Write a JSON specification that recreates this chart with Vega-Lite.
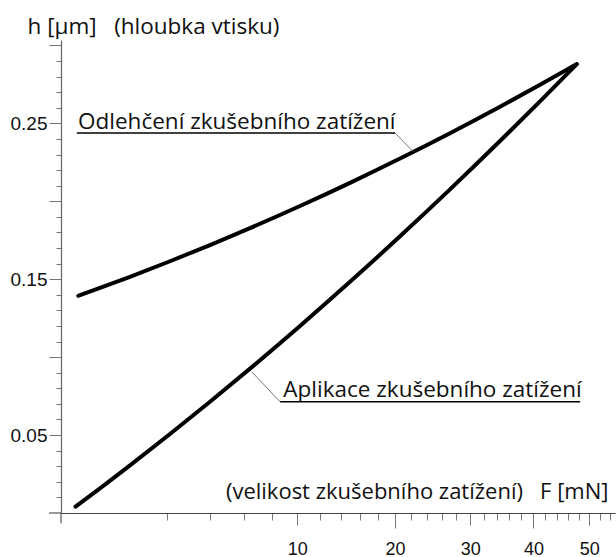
{
  "$schema": "https://vega.github.io/schema/vega-lite/v6.json",
  "autosize": "none",
  "width": 554,
  "height": 473,
  "padding": {"left": 61, "top": 40, "right": 1, "bottom": 44},
  "background": "white",
  "config": {"view": {"stroke": null}},
  "datasets": {
    "curves": [
      {"series": "load", "F": 0.0377, "h": 0.0041},
      {"series": "load", "F": 0.2726, "h": 0.01585},
      {"series": "load", "F": 0.8532, "h": 0.03057},
      {"series": "load", "F": 2.129, "h": 0.05069},
      {"series": "load", "F": 3.979, "h": 0.07137},
      {"series": "load", "F": 6.401, "h": 0.09263},
      {"series": "load", "F": 10.237, "h": 0.12003},
      {"series": "load", "F": 14.968, "h": 0.14833},
      {"series": "load", "F": 20.595, "h": 0.17755},
      {"series": "load", "F": 27.118, "h": 0.20766},
      {"series": "load", "F": 34.537, "h": 0.23869},
      {"series": "load", "F": 41.118, "h": 0.26416},
      {"series": "load", "F": 47.66, "h": 0.288},
      {"series": "unload", "F": 0.0536, "h": 0.13937},
      {"series": "unload", "F": 0.2726, "h": 0.1444},
      {"series": "unload", "F": 0.8532, "h": 0.15157},
      {"series": "unload", "F": 2.129, "h": 0.16154},
      {"series": "unload", "F": 3.979, "h": 0.17193},
      {"series": "unload", "F": 6.401, "h": 0.18278},
      {"series": "unload", "F": 10.237, "h": 0.19697},
      {"series": "unload", "F": 14.968, "h": 0.21184},
      {"series": "unload", "F": 20.595, "h": 0.22742},
      {"series": "unload", "F": 27.118, "h": 0.24368},
      {"series": "unload", "F": 34.537, "h": 0.26065},
      {"series": "unload", "F": 41.118, "h": 0.27473},
      {"series": "unload", "F": 47.66, "h": 0.288}
    ],
    "labels": [
      {"text": "Odlehčení zkušebního zatížení", "F": 0.052, "h": 0.2464},
      {"text": "Aplikace zkušebního zatížení", "F": 8.86, "h": 0.0744}
    ],
    "underlines": [
      {"F": 0.045, "F2": 20.0, "h": 0.2438},
      {"F": 8.6, "F2": 48.3, "h": 0.0714}
    ],
    "leaders": [
      {"F": 20.0, "F2": 22.24, "h": 0.2438, "h2": 0.2318},
      {"F": 8.6, "F2": 6.52, "h": 0.0714, "h2": 0.0906}
    ],
    "axisext": [
      {"F": 0, "F2": 0, "h": 0, "h2": -0.0065},
      {"F": -0.026, "F2": 0, "h": 0, "h2": 0}
    ]
  },
  "encoding": {
    "x": {
      "field": "F",
      "type": "quantitative",
      "scale": {"type": "sqrt", "domain": [0, 55], "nice": false, "zero": false},
      "axis": {
        "title": "(velikost zkušebního zatížení)\u00a0\u00a0\u00a0F [mN]",
        "titleFont": "Open Sans",
        "titleFontSize": 22,
        "titleFontWeight": "normal",
        "titleColor": "#111",
        "titleAngle": 0,
        "titleAlign": "right",
        "titleBaseline": "alphabetic",
        "titleX": 547,
        "titleY": -15,
        "values": [2, 4, 6, 8, 10, 12, 14, 16, 18, 20, 22, 24, 26, 28, 30, 32, 34, 36, 38, 40, 42, 44, 46, 48, 50, 52, 54],
        "tickSize": {"condition": [{"test": "datum.value % 20 === 0", "value": 15}, {"test": "datum.value % 10 === 0", "value": 12}], "value": 7},
        "tickColor": "#777",
        "tickWidth": 1,
        "domainColor": "#444",
        "domainWidth": 1.2,
        "grid": false,
        "labelExpr": "datum.value % 10 === 0 ? datum.label : ''",
        "labelFont": "Liberation Sans",
        "labelFontSize": 18,
        "labelColor": "#111",
        "labelPadding": {"condition": {"test": "datum.value % 20 === 0", "value": 12}, "value": 15},
        "labelBaseline": "top",
        "labelOverlap": false,
        "labelFlush": false
      }
    },
    "y": {
      "field": "h",
      "type": "quantitative",
      "scale": {"domain": [0, 0.3035], "nice": false, "zero": false},
      "axis": {
        "title": "h [µm]\u00a0\u00a0\u00a0(hloubka vtisku)",
        "titleFont": "Open Sans",
        "titleFontSize": 22.5,
        "titleFontWeight": "normal",
        "titleColor": "#111",
        "titleAngle": 0,
        "titleAlign": "left",
        "titleBaseline": "alphabetic",
        "titleX": -34,
        "titleY": -7,
        "values": [0.01, 0.02, 0.03, 0.04, 0.05, 0.06, 0.07, 0.08, 0.09, 0.1, 0.11, 0.12, 0.13, 0.14, 0.15, 0.16, 0.17, 0.18, 0.19, 0.2, 0.21, 0.22, 0.23, 0.24, 0.25, 0.26, 0.27, 0.28, 0.29, 0.3],
        "tickSize": {"condition": {"test": "round(datum.value * 100) % 5 === 0", "value": 12}, "value": 5},
        "tickColor": "#777",
        "tickWidth": 1,
        "domainColor": "#666",
        "domainWidth": 1.2,
        "grid": false,
        "labelExpr": "round(datum.value * 100) % 10 === 5 ? format(datum.value, '.2f') : ''",
        "labelFont": "Liberation Sans",
        "labelFontSize": 19,
        "labelColor": "#111",
        "labelPadding": 2,
        "labelOverlap": false,
        "labelFlush": false
      }
    }
  },
  "layer": [
    {
      "data": {"name": "axisext"},
      "mark": {"type": "rule", "color": "#555", "strokeWidth": 1.2, "clip": false},
      "encoding": {"x2": {"field": "F2"}, "y2": {"field": "h2"}}
    },
    {
      "data": {"name": "curves"},
      "mark": {"type": "line", "interpolate": "monotone", "color": "black", "strokeWidth": 4, "strokeCap": "round", "strokeJoin": "round"},
      "encoding": {"detail": {"field": "series", "type": "nominal"}}
    },
    {
      "data": {"name": "underlines"},
      "mark": {"type": "rule", "color": "black", "strokeWidth": 1.5},
      "encoding": {"x2": {"field": "F2"}}
    },
    {
      "data": {"name": "leaders"},
      "mark": {"type": "rule", "color": "#666", "strokeWidth": 0.9},
      "encoding": {"x2": {"field": "F2"}, "y2": {"field": "h2"}}
    },
    {
      "data": {"name": "labels"},
      "mark": {"type": "text", "align": "left", "baseline": "alphabetic", "font": "Open Sans", "fontSize": 22.5, "color": "#111"},
      "encoding": {"text": {"field": "text", "type": "nominal"}}
    }
  ]
}
